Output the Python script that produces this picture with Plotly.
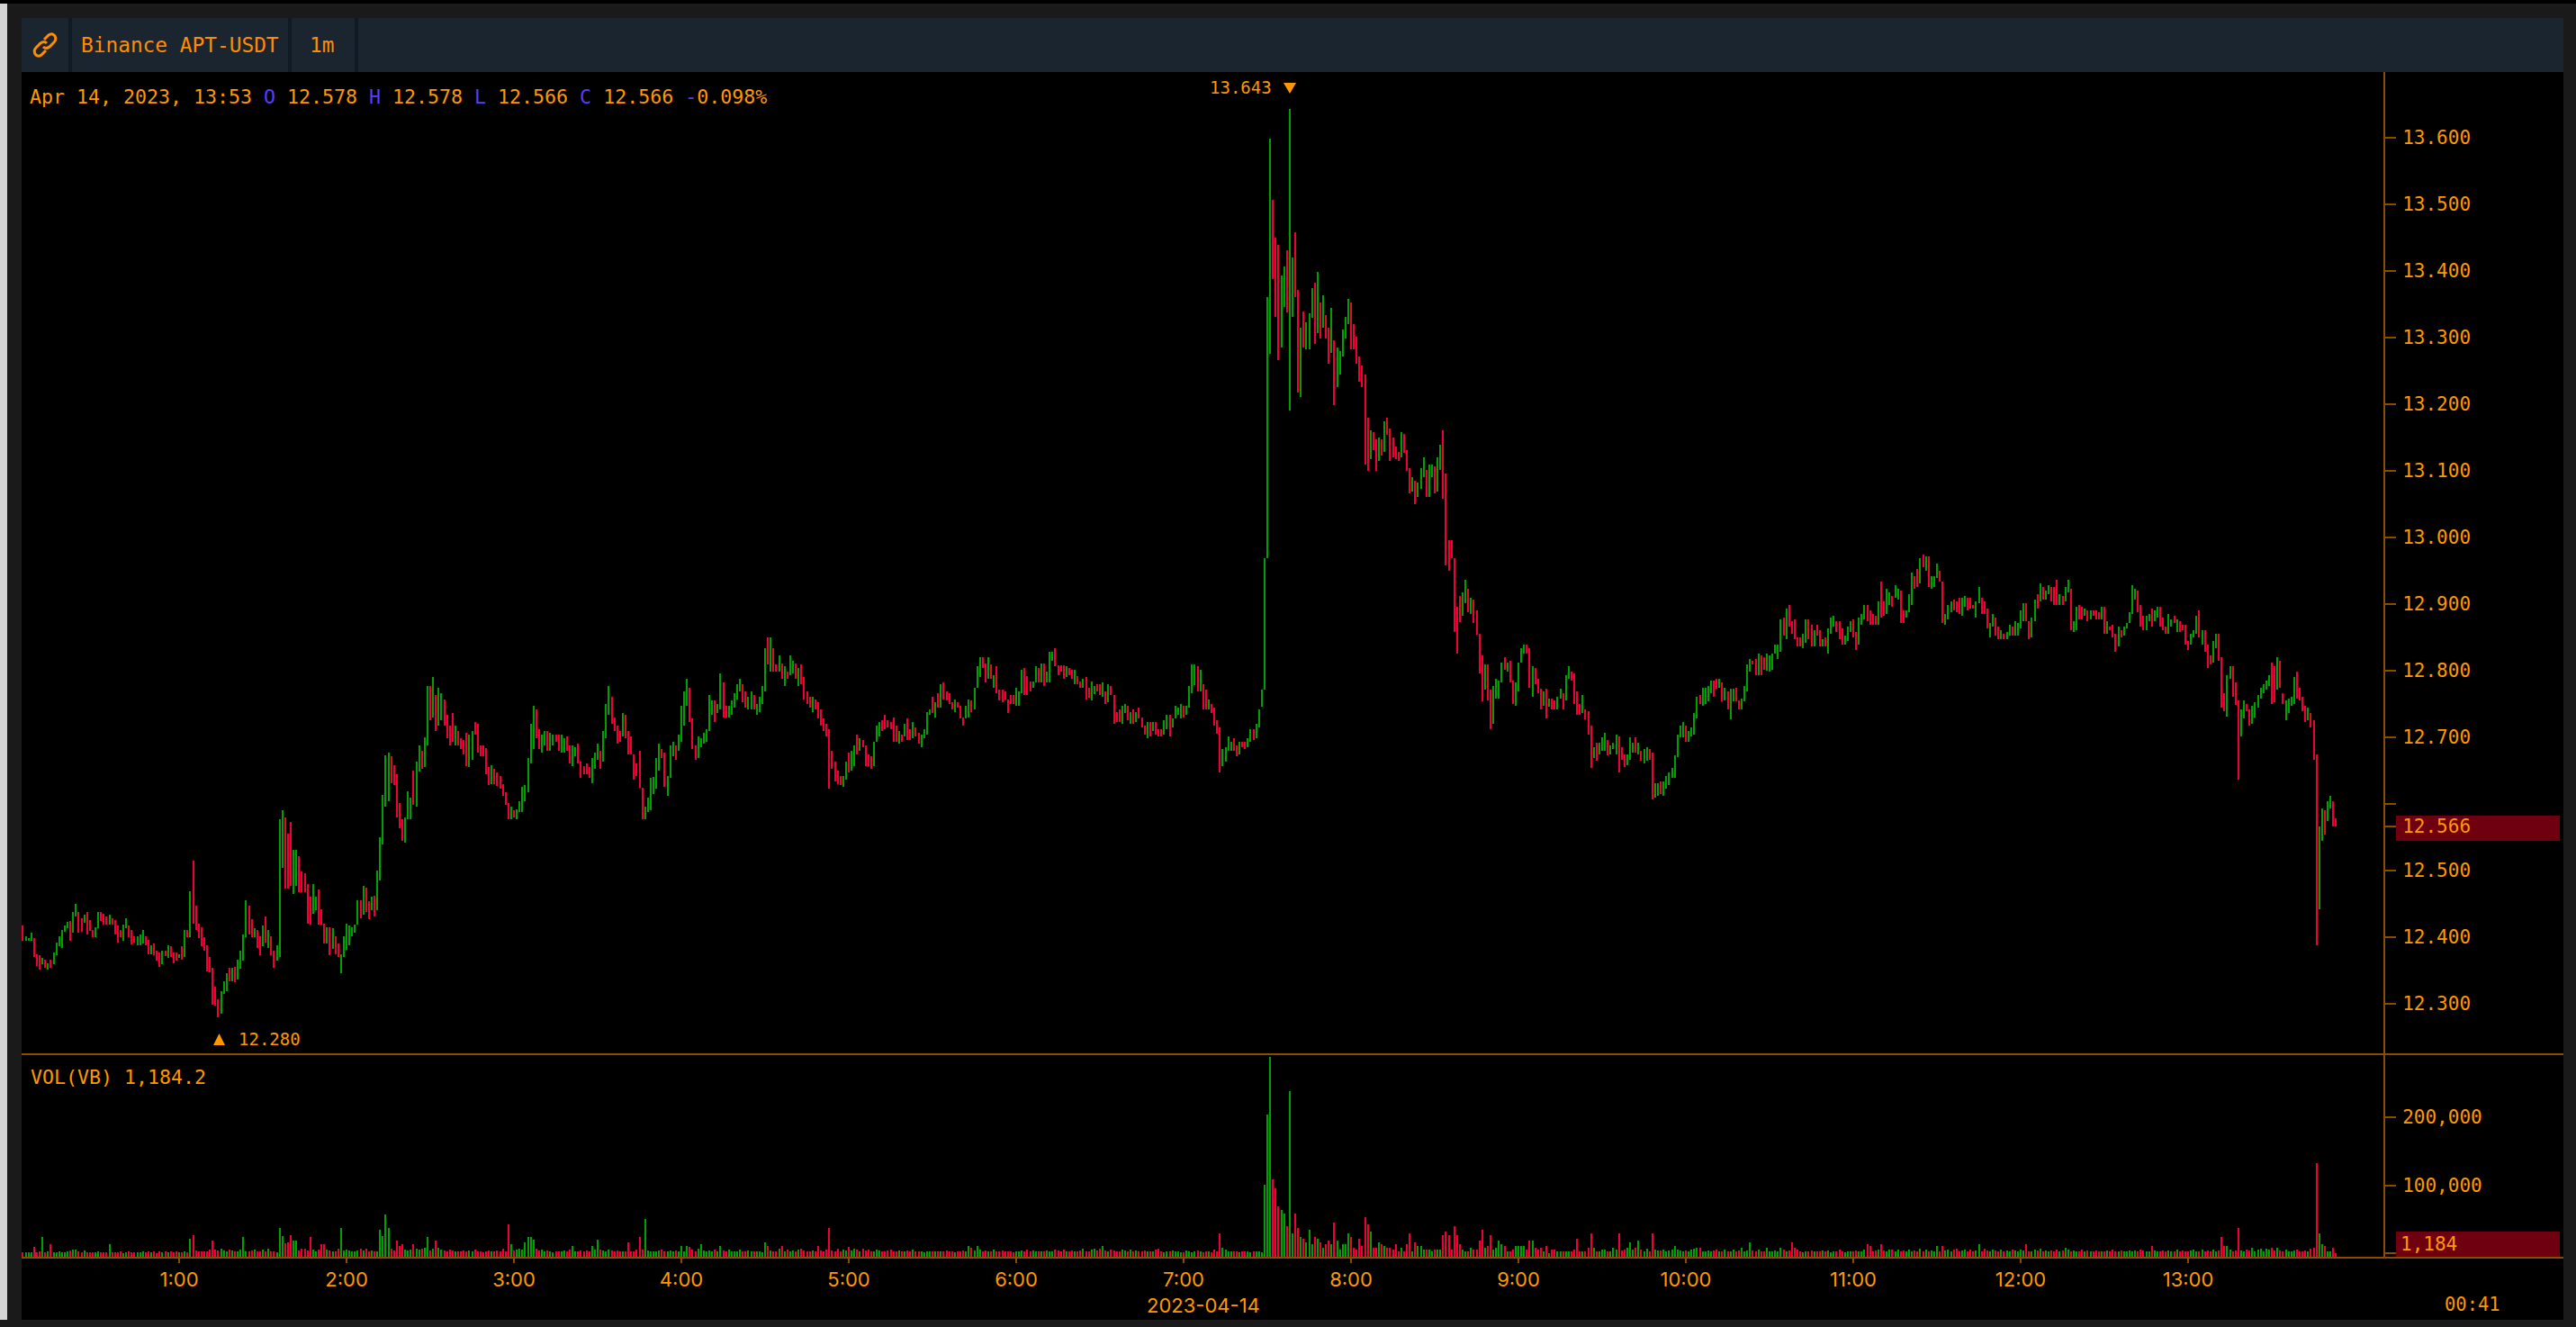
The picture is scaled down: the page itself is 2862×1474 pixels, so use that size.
import pandas as pd
import plotly.graph_objects as go

# ---- chart values ------------------------------------------------------
# Prices are stored per hour in thousandths above 12.000; dirs: g = up, r = down.
# Volumes are in thousands.
highs_h00 = [417,401,398,407,398,374,372,369,366,361, 366,377,392,401,410,417,423,424,437,450,
             437,428,434,437,425,410,415,438,438,435, 431,434,428,425,417,411,419,428,417,411,
             401,401,404,410,401,395,388,390,379,377, 379,380,388,386,377,377]
lows_h00 = [394,394,394,394,370,356,351,359,354,351, 353,359,372,386,384,408,413,394,406,431,
            407,408,421,404,409,399,399,413,424,418, 418,419,418,404,391,399,394,413,399,389,
            391,388,388,390,388,374,374,372,365,355, 359,371,368,370,361,365]
dirs_h00 = "rgggrrrgrg rggggggrgg rrgrrrggrr rgrrrrggrr rgggrrgrrr grgrrr"
vols_h00 = [2,2,2,2,10,2,3,24,2,3, 14,2,2,3,2,2,3,5,6,6, 3,2,5,2,2,2,2,3,2,2,
            2,14,2,2,2,3,1,2,3,2, 2,2,2,3,2,3,2,3,1,4, 2,3,2,3,2,4]

highs_h01 = [374,386,410,410,469,515,447,420,415,399, 388,370,353,325,307,318,334,345,353,353,
             355,366,380,404,455,447,426,413,411,401, 417,431,410,401,380,388,577,590,579,555,
             572,531,531,521,498,496,480,461,480,461, 471,442,420,415,415,413,401,390,374,401]
lows_h01 = [368,366,370,399,399,420,410,398,386,380, 348,347,298,297,280,285,314,318,334,334,
            332,336,352,365,399,404,399,399,384,372, 386,392,384,372,353,365,370,503,473,473,
            476,465,476,467,467,467,420,419,435,440, 419,419,390,390,372,382,374,370,345,370]
dirs_h01 = "grgrgrrrrr rrrrrgggrg rggggrrgrr grgrrgggrr rggrrrrrgg rrrgrgrrgg"
vols_h01 = [2,2,3,2,22,27,5,3,4,3, 3,6,19,6,5,7,5,4,6,5, 3,4,6,24,3,3,5,6,3,3,
            6,3,7,4,3,2,38,26,15,17, 27,19,19,5,7,7,5,24,6,3, 6,14,14,6,5,3,4,7,38,5]

highs_h02 = [420,417,415,419,455,455,477,474,453,461, 462,500,550,613,673,677,671,658,644,601,
             577,579,619,609,649,663,687,679,700,776, 776,790,763,774,766,757,733,717,736,717,
             709,698,696,706,703,709,722,720,687,687, 684,655,658,652,647,641,630,617,601,595]
lows_h02 = [381,388,401,406,419,428,434,438,426,440, 431,440,485,539,595,604,631,628,579,563,
            544,541,577,577,598,595,648,652,655,688, 725,730,709,717,725,717,698,688,693,688,
            688,682,674,657,655,666,703,676,671,671, 644,628,630,630,626,623,612,598,577,577]
dirs_h02 = "gggggrgrrg rgggggrrrr rgggrggrgg rgrggrrrrg rrrrggrrrr rrgrrrrrrg"
vols_h02 = [6,5,3,4,5,8,5,8,4,5, 3,3,35,26,58,38,7,5,19,12, 14,6,5,6,14,8,6,8,9,24,
            5,7,19,9,6,5,4,6,5,4, 3,4,5,3,5,3,6,4,3,2, 3,5,4,3,5,4,7,3,43,14]

highs_h03 = [590,592,604,625,628,668,720,747,741,712, 703,709,709,706,703,703,703,703,698,701,
             687,687,685,690,663,657,660,655,668,676, 690,679,709,749,776,760,730,717,709,736,
             733,709,701,674,660,679,624,595,609,639, 640,668,690,682,676,641,687,693,687,703]
lows_h03 = [579,577,588,588,604,617,661,682,698,682, 676,687,679,679,687,693,679,676,676,679,
            660,657,671,660,639,644,644,639,631,652, 666,652,663,698,733,720,709,690,693,701,
            698,674,674,636,642,624,577,577,588,590, 615,623,649,668,625,612,639,671,666,679]
dirs_h03 = "rgggggggrr ggrggrrggr rggrrrrrgg grgggrrrrg rrrrrrrggg gggrrgggrg"
vols_h03 = [5,6,7,6,17,24,24,21,8,5, 6,3,5,4,2,3,4,3,5,4, 6,12,4,3,5,4,5,3,12,6,
            21,6,5,4,6,5,4,5,4,3, 4,17,3,4,6,24,6,51,5,3, 4,3,5,6,4,3,5,4,5,3]

highs_h04 = [747,768,787,774,728,687,701,698,706,712, 763,755,755,749,795,782,747,747,755,766,
             779,787,779,768,760,768,763,749,760,776, 833,849,849,833,809,822,811,806,798,822,
             814,811,803,809,790,768,760,760,757,752, 741,728,720,712,679,663,649,641,641,663]
lows_h04 = [693,717,747,722,682,666,668,685,690,693, 709,733,722,736,741,730,730,730,733,744,
            757,768,752,744,741,741,741,733,738,749, 768,809,798,798,798,798,787,776,787,793,
            795,787,776,779,757,749,744,738,741,728, 717,709,701,622,652,633,630,628,625,636]
dirs_h04 = "gggrrrgggg ggrggrrggg ggrrggrggg grgrrgrgrg grgrrrrgrr rrrrrrrrgg"
vols_h04 = [12,3,12,10,6,4,8,14,5,4, 5,3,6,3,12,5,4,6,3,4, 3,6,4,3,5,4,3,3,4,2,
            17,12,5,4,3,8,12,4,6,3, 5,4,6,7,5,3,4,5,3,12, 5,4,6,38,5,4,8,3,6,5]

highs_h05 = [676,679,687,703,698,695,687,674,671,693, 717,722,725,733,725,722,730,717,709,703,
             720,728,712,722,714,706,703,712,738,741, 760,752,766,779,782,768,766,752,757,752,
             747,730,747,757,755,774,806,820,820,811, 820,809,793,806,771,771,768,757,763,763]
lows_h05 = [647,649,657,674,679,685,657,657,652,657, 693,701,709,712,714,712,693,693,690,693,
            701,695,695,698,701,690,685,698,703,733, 736,730,744,744,757,755,749,741,738,744,
            728,717,728,730,738,741,774,790,803,782, 787,787,774,766,755,752,757,736,749,749]
dirs_h05 = "rggrgrrrrg ggrrrrrrgr grrgrrgggg rgrgrrrrgr rrggrgggrr grgrrrrrrr"
vols_h05 = [10,5,8,6,4,7,5,6,4,3, 6,5,4,3,5,6,3,4,5,3, 3,5,4,6,3,3,4,2,3,4,
            3,3,4,3,4,5,3,3,2,4, 3,5,4,12,9,5,12,6,4,5, 3,4,6,4,3,5,4,3,4,2]

highs_h06 = [774,768,801,803,792,784,784,806,803,811, 811,798,828,828,833,808,808,808,806,803,
             801,801,792,784,787,790,774,784,776,779, 779,782,768,779,776,763,738,741,747,749,
             747,738,741,738,744,730,717,722,722,722, 722,712,712,725,733,733,728,747,744,749]
lows_h06 = [747,747,766,763,763,768,774,782,782,782, 776,782,782,814,806,793,798,787,790,793,
            787,779,779,774,774,757,759,755,765,768, 763,760,749,752,763,720,722,722,720,736,
            725,720,720,722,728,714,703,698,701,709, 703,701,701,703,712,701,714,728,733,728]
dirs_h06 = "gggrrrggrg rgggrrrrgr rgrrgrrggr rgrgrrrrgg rgrgrrrgrg rrrggrgggg"
vols_h06 = [4,3,5,4,6,3,5,4,3,4, 3,5,4,3,6,5,4,6,3,3, 5,4,3,5,7,4,3,6,8,5,
            7,12,5,4,6,5,3,4,6,5, 4,6,3,5,4,3,5,4,3,4, 6,7,3,2,4,3,5,3,4,2]

highs_h07 = [747,747,776,809,809,806,801,779,771,757, 749,744,725,714,682,685,701,693,698,687,
             693,693,693,698,712,712,720,741,771,968, 1360,1598,1506,1450,1439,1393,1406,1431,1643,1420,
             1458,1371,1315,1339,1322,1336,1374,1382,1398,1352, 1363,1333,1315,1344,1296,1285,1279,1312,1331,1358]
lows_h07 = [730,733,744,766,778,768,768,742,742,741, 736,717,705,647,657,663,679,679,679,671,
            674,685,682,685,693,695,698,714,745,771, 968,1275,1387,1331,1266,1285,1345,1337,1190,1331,
            1360,1217,1210,1285,1282,1282,1329,1290,1306,1298, 1315,1298,1261,1277,1198,1225,1244,1271,1298,1320]
dirs_h07 = "rggggrgrrg rrrrggggrr grrggrgggg ggrrrggrgg rrgrgggrgr grrgrggggg"
vols_h07 = [2,5,3,2,3,5,4,2,3,4, 2,6,4,30,9,6,3,3,3,4, 2,3,3,3,2,3,4,3,2,101,
            203,288,109,96,69,64,59,40,238,30, 59,38,25,22,17,35,14,25,22,17, 9,14,19,14,46,19,6,14,14,30]

highs_h08 = [1352,1320,1301,1271,1258,1244,1180,1161,1158,1147, 1150,1147,1174,1180,1163,1150,1136,1128,1158,1155,
             1131,1104,1090,1085,1082,1104,1120,1101,1109,1109, 1107,1120,1139,1161,1095,996,996,969,896,912,
             917,936,923,909,906,890,855,823,809,809, 771,777,788,785,812,820,812,815,785,782]
lows_h08 = [1282,1282,1261,1233,1225,1109,1099,1117,1131,1099, 1115,1123,1128,1153,1115,1120,1117,1115,1120,1126,
            1099,1066,1069,1050,1061,1072,1090,1061,1061,1090, 1066,1069,1101,1058,958,950,969,858,825,872,
            882,901,888,885,871,853,796,753,771,755, 712,720,758,758,782,801,798,782,750,747]
dirs_h08 = "rrrrrrrgrr grgrrrrrgr rrgrgggrgg rggrrrrrrr ggrgrrrrgr rggggrgrrg"
vols_h08 = [25,9,6,22,11,53,43,32,9,9, 17,14,11,9,9,6,14,3,9,3, 14,30,3,17,11,11,6,6,6,3,
            6,6,6,27,32,27,6,40,27,14, 6,3,3,9,6,6,19,35,9,11, 27,6,9,19,14,11,3,3,6,11]

highs_h09 = [812,834,839,839,834,807,804,788,772,769, 772,758,758,755,761,772,766,793,807,798,
             796,769,750,763,742,739,717,685,691,691, 699,707,696,688,691,704,701,685,674,674,
             699,691,699,691,680,682,685,682,677,631, 631,634,634,642,647,653,672,704,717,723]
lows_h09 = [769,812,825,825,774,761,780,766,742,747, 728,745,742,742,742,758,742,755,788,785,
            750,734,734,736,726,704,653,669,664,674, 680,680,672,674,682,674,647,666,655,658,
            666,677,677,674,664,661,664,666,607,609, 612,615,612,623,628,639,639,670,699,699]
dirs_h09 = "gggrrgrrrg rgrrggrggr rrrgrrrgrg ggrgggrrrg ggrgrggrrg grgggggggg"
vols_h09 = [11,11,11,6,19,19,9,6,9,3, 11,1,6,6,3,3,3,3,3,3, 6,22,3,3,3,9,30,9,3,3,
            6,6,3,3,9,6,30,5,6,9, 17,6,9,19,6,3,8,4,30,6, 5,5,6,4,5,6,11,6,5,4]

highs_h10 = [717,709,715,736,761,763,774,774,777,785, 785,788,788,782,774,769,772,772,774,755,
             758,777,809,817,815,817,825,823,820,825, 823,825,839,839,877,879,893,898,874,877,
             850,850,855,877,877,869,860,869,860,847, 850,863,879,882,874,874,863,852,866,874]
lows_h10 = [693,693,701,704,728,750,747,750,753,766, 761,772,774,753,755,742,726,753,753,742,
            742,753,769,798,809,793,793,793,801,800, 798,801,825,817,828,852,847,866,855,847,
            836,836,833,842,847,836,836,852,836,836, 836,825,855,866,858,847,839,839,844,858]
dirs_h10 = "rggggrgggg rrgrgrggrr ggggrrgrrg gggggrgrrr rrggrrgrrg rgggrrrggg"
vols_h10 = [5,4,6,8,9,9,4,3,5,3, 5,6,4,3,6,3,4,6,3,5, 9,4,5,17,5,3,6,4,3,9,
            4,3,5,4,9,6,3,5,17,9, 6,3,2,4,3,5,4,3,3,5, 3,5,2,3,4,6,3,2,4,3]

highs_h11 = [877,858,879,885,898,898,890,885,882,904, 933,904,923,917,912,928,923,920,890,890,
             914,947,941,952,968,974,971,971,941,941, 960,950,933,885,898,904,906,904,909,909,
             912,909,909,898,904,925,909,904,893,871, 885,879,866,860,855,858,869,866,874,871]
lows_h11 = [850,831,839,869,877,874,869,869,869,869, 879,882,885,898,896,909,906,871,871,879,
            887,898,923,925,931,955,950,925,923,925, 939,933,871,869,877,887,890,887,885,882,
            896,890,893,893,879,901,885,885,863,850, 866,852,847,847,847,847,852,852,852,852]
dirs_h11 = "rrgggrrrrg rrggrggrrg ggrrgrgrgg grrgggrrrg grrrggrrrg grrgrggrgg"
vols_h11 = [4,5,3,4,6,14,11,3,5,6, 14,5,3,6,6,4,6,3,5,3, 6,4,5,3,7,4,6,3,5,3,
            11,4,11,5,6,3,6,8,4,5, 6,3,6,3,5,14,3,7,5,4, 6,5,3,6,4,5,3,6,5,3]

highs_h12 = [890,901,901,874,879,906,914,931,925,920, 928,925,925,936,914,912,925,936,923,874,
             896,898,896,893,890,890,890,890,887,896, 896,874,866,869,855,866,860,866,871,887,
             928,923,920,898,882,882,885,893,890,896, 896,879,866,885,877,882,877,874,869,869]
lows_h12 = [863,874,874,847,850,874,893,904,906,906, 914,904,898,898,898,898,904,917,860,858,
            860,877,877,882,874,877,882,877,877,877, 855,855,860,850,828,836,850,852,863,871,
            885,906,887,866,860,860,874,866,874,879, 866,860,855,855,866,871,858,858,860,839]
dirs_h12 = "ggrrggrgrg grrrgrggrg grrgrgrrrg rgrrrgrggg ggrrrggrgg rrrggrgrrr"
vols_h12 = [6,5,14,4,3,6,5,7,3,5, 4,5,3,6,4,5,9,6,3,5, 4,3,6,3,5,4,3,5,4,3,
            3,5,4,6,3,4,5,3,4,5, 3,5,4,6,5,3,4,11,5,3, 3,5,4,5,3,4,6,3,5,4]

highs_h13 = [844,855,860,882,890,860,860,839,823,844, 855,855,820,766,793,806,806,782,755,742,
             755,750,741,747,752,763,774,779,785,793, 812,806,820,814,766,755,758,761,790,798,
             774,760,747,744,736,725,674,566,593,590, 604,612,604,578]
lows_h13 = [831,839,850,855,850,839,828,804,809,812, 833,815,744,739,731,787,761,748,636,701,
            728,739,717,720,730,744,758,766,771,777, 750,752,771,774,750,725,736,747,750,758,
            755,739,723,725,714,666,388,442,544,553, 574,593,566,566]
dirs_h13 = "rgggrgrrrg grrrggrrrg grrggggggg rrgrrggggr rrrgrrrggr ggrr"
vols_h13 = [3,5,6,3,4,6,3,5,4,6, 4,5,25,11,11,6,4,5,38,5, 4,6,5,9,4,6,7,4,7,6,
            9,5,9,5,3,6,4,3,5,6, 4,3,5,3,7,9,132,30,14,11, 3,3,9,1.184]

hour_starts = [4, 60, 120, 180, 240, 300, 360, 420, 480, 540, 600, 660, 720, 780]
all_highs = [highs_h00, highs_h01, highs_h02, highs_h03, highs_h04, highs_h05, highs_h06,
             highs_h07, highs_h08, highs_h09, highs_h10, highs_h11, highs_h12, highs_h13]
all_lows = [lows_h00, lows_h01, lows_h02, lows_h03, lows_h04, lows_h05, lows_h06,
            lows_h07, lows_h08, lows_h09, lows_h10, lows_h11, lows_h12, lows_h13]
all_dirs = [dirs_h00, dirs_h01, dirs_h02, dirs_h03, dirs_h04, dirs_h05, dirs_h06,
            dirs_h07, dirs_h08, dirs_h09, dirs_h10, dirs_h11, dirs_h12, dirs_h13]
all_vols = [vols_h00, vols_h01, vols_h02, vols_h03, vols_h04, vols_h05, vols_h06,
            vols_h07, vols_h08, vols_h09, vols_h10, vols_h11, vols_h12, vols_h13]

price_ticks = [12.3, 12.4, 12.5, 12.6, 12.7, 12.8, 12.9, 13.0, 13.1, 13.2, 13.3, 13.4, 13.5, 13.6]
volume_ticks = [100000, 200000]
hour_ticks = list(range(1, 14))

# ---- assemble ----------------------------------------------------------
day = pd.Timestamp("2023-04-14 00:00:00")
times, highs, lows, dirs, vols = [], [], [], [], []
for start, hs, ls, ds, vs in zip(hour_starts, all_highs, all_lows, all_dirs, all_vols):
    ds = ds.replace(" ", "")
    for k, (h, l, d) in enumerate(zip(hs, ls, ds)):
        times.append(day + pd.Timedelta(minutes=start + k))
        highs.append(12 + h / 1000)
        lows.append(12 + l / 1000)
        dirs.append(d)
        vols.append((vs[k] if k < len(vs) else 2) * 1000)
opens = [l if d == "g" else h for h, l, d in zip(highs, lows, dirs)]
closes = [h if d == "g" else l for h, l, d in zip(highs, lows, dirs)]

# ---- layout geometry (pixels in the 2862 x 1474 page) -------------------
W, H = 2862, 1474
ORANGE = "#ff9800"
BROWN = "#8a4c00"
RED = "#f00033"
GREEN = "#00a000"
MONO = "DejaVu Sans Mono"
SANS = "Inter"
def fx(x): return x / W
def fy(y): return 1 - y / H

PLOT_L, PLOT_R = 24, 2649
PRICE_T, PANE_SPLIT, VOL_B = 80, 1171, 1397
xr = [day + pd.Timedelta(minutes=(PLOT_L - 13) / 3.1), day + pd.Timedelta(minutes=(PLOT_R - 13) / 3.1)]
def price_at(y): return 12.8 + (744.7 - y) / 740
def vol_at(y): return (1392.7 - y) * 1316
vol_floor = vol_at(VOL_B)

fig = go.Figure()
fig.add_trace(go.Ohlc(x=times, open=opens, high=highs, low=lows, close=closes,
                      xaxis="x", yaxis="y", tickwidth=0, line_width=2,
                      increasing_line_color=GREEN, decreasing_line_color=RED,
                      increasing_line_width=2, decreasing_line_width=2,
                      showlegend=False))
fig.add_trace(go.Bar(x=times, y=[v - vol_floor for v in vols], base=vol_floor,
                     xaxis="x2", yaxis="y2", width=2 / 3.1 * 60000,
                     marker_color=[GREEN if d == "g" else RED for d in dirs],
                     marker_line_width=0, showlegend=False))

def rect(x0, y0, x1, y1, color, layer="below"):
    return dict(type="rect", xref="paper", yref="paper", x0=fx(x0), x1=fx(x1), y0=fy(y0), y1=fy(y1),
                fillcolor=color, line_width=0, layer=layer)
def line(x0, y0, x1, y1):
    return dict(type="line", xref="paper", yref="paper", x0=fx(x0), x1=fx(x1), y0=fy(y0), y1=fy(y1),
                line=dict(color=BROWN, width=2), layer="above")
def icon_path(cmds):
    out = []
    for c in cmds:
        if isinstance(c, str):
            out.append(c)
        else:
            out.append(f"{fx(c[0]):.6f},{fy(c[1]):.6f}")
    return " ".join(out)

link_a = ["M", (49, 44), "L", (54, 39), "Q", (58, 36), (61, 40), "Q", (63, 44), (60, 47), "L", (55, 52), "Q", (51, 55), (48, 52)]
link_b = ["M", (51, 56), "L", (46, 61), "Q", (42, 64), (39, 60), "Q", (37, 56), (40, 53), "L", (45, 48), "Q", (49, 45), (52, 48)]
tri_high = ["M", (1426, 92), "L", (1440, 92), "L", (1433, 104), "Z"]
tri_low = ["M", (237, 1161), "L", (250, 1161), "L", (243.5, 1148), "Z"]

shapes = [
    rect(0, 0, W, 4, "#000000"),
    rect(0, 4, 8, 1466, "#d4d4d4"),
    rect(24, 80, 2848, 1466, "#000000"),
    rect(24, 20, 2848, 80, "#1a2530"),
    rect(76, 20, 80, 80, "#101a22"),
    rect(320, 20, 324, 80, "#101a22"),
    rect(394, 20, 398, 80, "#101a22"),
    rect(2662, 906, 2844, 934, "#6e0010"),
    rect(2662, 1368, 2844, 1396, "#6e0010"),
    line(24, PANE_SPLIT, 2848, PANE_SPLIT),
    line(24, VOL_B, 2848, VOL_B),
    line(PLOT_R, PRICE_T, PLOT_R, VOL_B),
]
for p in (link_a, link_b):
    shapes.append(dict(type="path", xref="paper", yref="paper", path=icon_path(p),
                       line=dict(color="#ff8c00", width=3), layer="above"))
for p in (tri_high, tri_low):
    shapes.append(dict(type="path", xref="paper", yref="paper", path=icon_path(p),
                       fillcolor=ORANGE, line_width=0, layer="above"))

def label(text, x, y, size, anchor="left", color=ORANGE, family=MONO):
    return dict(text=text, xref="paper", yref="paper", x=fx(x), y=fy(y), xanchor=anchor, yanchor="middle",
                showarrow=False, font=dict(family=family, size=size, color=color))

BLUE = "#5a3cff"
def blue(s): return f"<span style='color:{BLUE}'>{s}</span>"
annotations = [
    label("Binance APT-USDT", 88, 50, 22.8, color="#ff8c00"),
    label("1m", 342, 50, 22.8, color="#ff8c00"),
    label(f"Apr 14, 2023, 13:53 {blue('O')} 12.578 {blue('H')} 12.578 {blue('L')} 12.566 {blue('C')} 12.566 {blue('-')}0.098%",
          31, 107, 21.6),
    label("13.643", 1342, 97, 19),
    label("12.280", 263, 1154, 19),
    label("VOL(VB) 1,184.2", 32, 1196, 21.6),
    label("1,184", 2665, 1382, 21),
    label("2023-04-14", 1337, 1450, 22, anchor="center", family=SANS),
    label("00:41", 2747, 1449, 20.5, anchor="center"),
]

price_vals = price_ticks + [12.566]
price_text = ["" if abs(t - 12.6) < 1e-6 else f"{t:.3f}" for t in price_ticks] + ["12.566"]
vol_vals = volume_ticks + [1184]
vol_text = [f"{v:,}" for v in volume_ticks] + [""]
axis_common = dict(showgrid=False, zeroline=False, showline=False, side="right",
                   ticks="outside", ticklen=12, tickwidth=2, tickcolor=BROWN,
                   tickfont=dict(family=MONO, size=21, color=ORANGE), ticklabelstandoff=3)

fig.update_layout(
    width=W, height=H, margin=dict(l=0, r=0, t=0, b=0),
    paper_bgcolor="#1a1a1a", plot_bgcolor="#000000",
    shapes=shapes, annotations=annotations, bargap=0, hovermode=False,
    xaxis=dict(domain=[fx(PLOT_L), fx(PLOT_R)], range=xr, type="date", anchor="y", visible=False,
               rangeslider=dict(visible=False), showgrid=False),
    xaxis2=dict(domain=[fx(PLOT_L), fx(PLOT_R)], range=xr, type="date", anchor="y2",
                rangeslider=dict(visible=False), showgrid=False, zeroline=False, showline=False,
                tickmode="array",
                tickvals=[day + pd.Timedelta(hours=h) for h in hour_ticks],
                ticktext=[f"{h}:00" for h in hour_ticks],
                ticks="outside", ticklen=5, tickwidth=2, tickcolor=BROWN,
                tickfont=dict(family=SANS, size=22, color=ORANGE)),
    yaxis=dict(domain=[fy(PANE_SPLIT), fy(PRICE_T)], range=[price_at(PANE_SPLIT), price_at(PRICE_T)],
               anchor="x", tickmode="array", tickvals=price_vals, ticktext=price_text, **axis_common),
    yaxis2=dict(domain=[fy(VOL_B), fy(PANE_SPLIT)], range=[vol_floor, vol_at(PANE_SPLIT)],
                anchor="x2", tickmode="array", tickvals=vol_vals, ticktext=vol_text, **axis_common),
)

crisp = ("var s=document.createElement('style');"
         "s.textContent='.ohlc path,.bars path{shape-rendering:crispEdges !important}';"
         "document.head.appendChild(s);"
         "document.body.style.margin='0';document.body.style.overflow='hidden';"
         "document.body.style.background='#1a1a1a';")
fig.write_html("out.html", config=dict(displayModeBar=False), post_script=crisp)
